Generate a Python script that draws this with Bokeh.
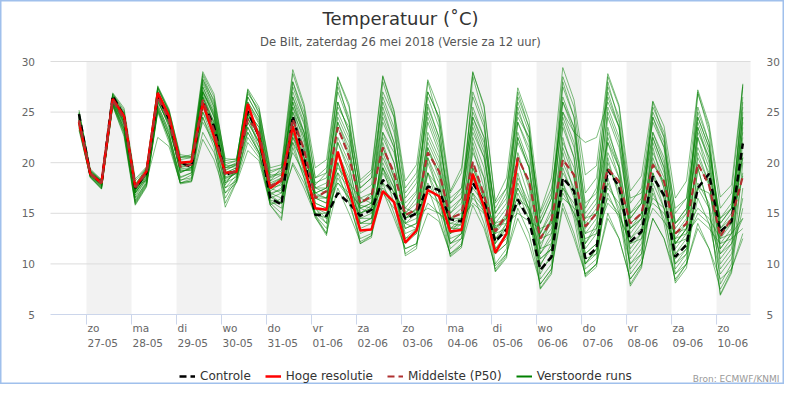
from bokeh.plotting import figure
from bokeh.models import Range1d, Legend, LegendItem, BoxAnnotation
from bokeh.core.properties import value
from bokeh.embed import file_html
from bokeh.resources import INLINE

FONT = value("DejaVu Sans")

# ---------------------------------------------------------------- data
# time of each value: hours since zo 27-05 00:00 (local), one value every 6 h
hours = list(range(-4, 351, 6))

day_names = ["zo", "ma", "di", "wo", "do", "vr", "za", "zo", "ma", "di", "wo", "do", "vr", "za", "zo"]
day_dates = ["27-05", "28-05", "29-05", "30-05", "31-05", "01-06", "02-06", "03-06",
             "04-06", "05-06", "06-06", "07-06", "08-06", "09-06", "10-06"]
y_ticks = [5, 10, 15, 20, 25, 30]

controle = [24.8,
            18.9, 18.0, 26.6, 24.6, 17.5, 19.0, 26.6, 24.3, 20.0, 19.6, 26.0, 23.6,
            18.8, 19.2, 25.1, 22.6, 16.5, 15.85, 24.6, 20.6, 14.85, 14.75, 17.0, 16.0,
            14.75, 15.35, 18.3, 17.0, 14.45, 15.0, 17.65, 17.3, 14.4, 14.2, 18.0, 16.2,
            12.2, 13.4, 16.35, 14.35, 9.4, 10.7, 18.5, 17.2, 10.55, 11.55, 19.3, 17.65,
            12.2, 13.2, 18.65, 16.8, 10.7, 11.9, 17.5, 18.9, 13.2, 14.2, 21.9]

hoge_resolutie = [24.0,
                  18.9, 18.0, 26.3, 24.6, 17.6, 19.15, 26.9, 24.6, 20.0, 20.1, 25.9, 22.6,
                  19.0, 19.1, 25.8, 22.5, 17.5, 18.3, 23.6, 19.65, 15.5, 15.35, 21.1, 17.3,
                  13.3, 13.4, 17.2, 16.1, 12.1, 13.3, 17.3, 16.7, 13.2, 13.35, 18.9, 15.6,
                  11.1, 13.0, 20.4]

middelste = [24.2,
             18.9, 18.0, 26.2, 24.3, 17.6, 19.0, 26.5, 24.2, 19.6, 19.8, 26.2, 23.2,
             18.8, 19.2, 24.3, 23.0, 17.7, 18.2, 24.3, 21.3, 16.5, 17.2, 23.5, 20.6,
             16.0, 16.7, 21.5, 19.0, 14.85, 15.35, 21.0, 19.15, 14.5, 15.0, 20.1, 16.8,
             13.2, 14.85, 20.5, 18.15, 12.5, 14.35, 20.3, 18.8, 13.7, 15.0, 19.4, 18.15,
             14.0, 15.0, 19.8, 18.15, 13.0, 14.0, 19.9, 17.8, 12.7, 14.5, 18.65]

verstoorde_runs = [
    [24.5, 19.2, 18.1, 26.5, 24.8, 17.0, 18.6, 27.3, 25.0, 19.5, 19.8, 28.6, 26.0, 19.5, 20.0, 27.2, 24.8,
     18.6, 19.2, 28.8, 25.5, 18.5, 19.0, 27.5, 24.5, 17.0, 17.8, 26.5, 23.5, 16.0, 17.2, 25.8, 22.5,
     15.5, 16.5, 27.0, 24.0, 14.5, 16.0, 25.5, 22.0, 13.0, 15.0, 27.5, 24.5, 15.5, 17.5, 28.5, 25.5,
     16.0, 17.5, 25.5, 23.0, 15.0, 16.5, 26.8, 23.5, 15.5, 17.0, 27.5],
    [23.6, 18.7, 17.6, 25.8, 23.2, 16.3, 18.2, 25.4, 22.8, 18.5, 19.0, 24.5, 22.0, 18.0, 18.6, 22.5, 20.8,
     17.5, 17.8, 21.0, 19.0, 16.8, 16.5, 18.0, 17.0, 15.8, 15.5, 17.5, 16.2, 15.0, 14.8, 15.5, 15.0,
     14.0, 13.8, 16.5, 15.2, 13.0, 13.5, 17.5, 15.0, 11.5, 12.0, 17.0, 15.0, 12.5, 13.0, 16.0, 14.8,
     12.0, 12.5, 15.5, 14.2, 12.5, 13.0, 14.5, 13.5, 12.0, 12.5, 13.5],
    [25.0, 19.0, 18.2, 26.7, 24.9, 17.8, 19.2, 26.8, 24.6, 20.2, 19.9, 26.5, 24.0, 19.0, 19.5, 25.5, 23.0,
     17.0, 16.5, 25.0, 21.5, 16.0, 15.5, 22.0, 19.5, 15.0, 15.8, 22.5, 20.0, 14.5, 15.5, 22.0, 19.5,
     13.5, 14.0, 21.0, 18.5, 12.0, 13.5, 20.5, 18.0, 11.0, 12.5, 22.0, 19.5, 12.0, 14.0, 23.0, 20.0,
     13.0, 14.5, 21.0, 18.5, 11.0, 12.5, 20.5, 18.0, 11.5, 13.0, 22.5],
    [24.2, 19.3, 18.3, 26.2, 24.0, 17.3, 18.8, 27.6, 25.3, 20.5, 20.8, 29.0, 26.8, 20.2, 20.4, 26.8, 25.3,
     19.5, 19.8, 29.2, 25.8, 19.5, 20.3, 28.5, 25.8, 18.3, 19.3, 28.6, 25.2, 18.2, 19.8, 28.2, 25.3,
     17.2, 19.5, 28.9, 25.7, 16.2, 18.5, 27.4, 24.2, 15.2, 18.5, 29.4, 26.2, 18.8, 19.7, 28.8, 25.7,
     17.2, 18.7, 26.1, 23.6, 16.5, 18.2, 27.2, 23.8, 16.6, 17.8, 27.7],
    [23.2, 18.6, 17.4, 25.6, 22.6, 15.8, 17.6, 25.0, 22.0, 18.0, 18.4, 25.5, 22.5, 16.0, 18.2, 24.5, 21.5,
     15.8, 14.5, 22.0, 18.5, 14.6, 13.0, 20.0, 16.5, 12.0, 12.8, 19.5, 16.0, 11.0, 11.8, 19.0, 15.5,
     10.8, 11.8, 18.5, 15.0, 9.3, 10.8, 19.0, 15.2, 7.6, 9.2, 18.0, 14.5, 8.8, 10.0, 18.5, 15.0,
     8.0, 9.8, 17.5, 14.0, 8.3, 10.0, 19.5, 15.5, 7.0, 9.3, 20.0],
    [24.8, 18.9, 17.9, 26.4, 24.3, 17.2, 19.0, 26.0, 23.8, 19.2, 19.3, 27.2, 24.5, 18.6, 19.0, 24.0, 22.0,
     16.8, 17.5, 26.5, 23.0, 17.0, 17.5, 25.0, 22.5, 16.5, 17.0, 24.5, 21.5, 14.0, 14.5, 20.5, 18.0,
     12.5, 13.0, 19.5, 17.0, 11.0, 12.0, 18.0, 15.5, 9.8, 12.0, 21.5, 18.5, 11.5, 13.0, 24.5, 21.5,
     14.0, 15.0, 22.5, 19.5, 12.0, 13.5, 23.5, 20.5, 13.5, 14.5, 24.5],
    [24.0, 18.8, 17.8, 25.9, 23.5, 17.8, 18.2, 22.5, 21.6, 18.0, 18.2, 23.0, 21.0, 17.5, 18.2, 22.0, 20.5,
     16.0, 16.0, 20.0, 18.0, 15.0, 14.5, 18.5, 16.5, 14.0, 14.0, 19.0, 17.0, 13.5, 14.0, 23.0, 20.5,
     15.0, 16.0, 24.0, 21.0, 13.5, 14.5, 22.5, 19.5, 12.0, 13.5, 20.0, 17.5, 11.0, 12.0, 21.0, 18.5,
     10.5, 12.0, 19.0, 16.5, 10.0, 11.5, 17.5, 15.5, 9.5, 11.0, 16.5],
    [24.6, 19.1, 18.0, 26.8, 25.2, 16.8, 18.4, 27.0, 24.8, 19.8, 20.2, 27.8, 25.5, 19.8, 20.2, 26.5, 24.5,
     18.5, 19.0, 27.5, 24.5, 17.5, 18.0, 26.0, 23.0, 16.0, 16.5, 23.0, 20.0, 14.5, 15.0, 21.5, 19.0,
     13.0, 13.5, 17.0, 15.5, 12.5, 13.0, 16.0, 14.5, 10.5, 11.5, 19.5, 16.5, 10.0, 11.5, 20.0, 17.0,
     11.5, 13.0, 22.0, 19.0, 13.0, 14.5, 24.5, 21.5, 14.0, 15.5, 25.5],
    [23.8, 18.8, 17.7, 26.0, 23.8, 17.9, 19.4, 25.6, 23.2, 19.8, 20.2, 24.0, 22.0, 19.5, 19.6, 23.0, 21.0,
     18.8, 18.8, 22.5, 20.5, 17.5, 17.0, 19.5, 18.0, 16.5, 16.0, 18.0, 16.8, 15.5, 15.0, 17.0, 16.0,
     14.5, 14.5, 16.0, 15.0, 13.8, 14.0, 15.0, 14.2, 13.5, 14.0, 16.5, 15.5, 14.5, 15.0, 17.5, 16.0,
     13.5, 14.5, 16.0, 15.0, 13.0, 13.5, 15.5, 14.5, 12.5, 13.0, 14.5],
    [24.4, 19.0, 18.1, 26.3, 24.4, 17.5, 19.0, 26.9, 24.0, 19.0, 19.5, 27.5, 24.8, 18.2, 19.0, 25.0, 23.5,
     17.5, 17.0, 25.5, 22.0, 16.5, 16.0, 24.0, 21.5, 15.5, 16.0, 25.0, 22.0, 15.0, 16.0, 24.5, 21.5,
     14.5, 15.5, 25.5, 22.5, 13.5, 15.0, 24.0, 21.0, 12.5, 14.5, 25.0, 22.0, 13.0, 14.5, 25.5, 22.5,
     13.5, 15.0, 24.5, 21.5, 12.5, 14.0, 23.0, 20.5, 12.0, 13.5, 23.5],
    [23.4, 18.6, 17.5, 25.7, 23.0, 16.0, 17.8, 25.2, 22.5, 18.3, 18.5, 26.0, 23.0, 17.0, 18.5, 24.8, 22.5,
     16.2, 15.5, 24.0, 20.0, 15.0, 14.0, 21.0, 18.0, 13.0, 13.5, 21.5, 18.5, 12.0, 13.0, 20.0, 17.0,
     11.5, 12.5, 22.0, 18.5, 10.0, 11.5, 21.0, 17.5, 8.5, 10.0, 22.5, 18.5, 9.5, 10.5, 23.5, 19.5,
     9.0, 10.5, 21.5, 17.5, 9.0, 10.5, 22.5, 18.5, 8.0, 10.0, 24.0],
    [24.3, 18.9, 18.0, 26.2, 24.3, 17.6, 19.0, 26.5, 24.2, 19.6, 19.8, 26.2, 23.2, 18.8, 19.2, 24.3, 23.0,
     17.7, 18.2, 24.3, 21.3, 16.5, 17.2, 23.5, 20.6, 16.0, 16.7, 21.5, 19.0, 14.8, 15.3, 21.0, 19.2,
     14.5, 15.0, 20.0, 16.8, 13.2, 14.8, 20.5, 18.2, 12.5, 14.3, 20.3, 18.8, 13.7, 15.0, 19.4, 18.2,
     14.0, 15.0, 19.8, 18.2, 13.0, 14.0, 19.9, 17.8, 12.7, 14.5, 18.7],
    [24.9, 19.2, 18.2, 26.6, 24.7, 17.4, 19.3, 27.0, 24.5, 20.0, 20.0, 27.0, 25.0, 19.2, 19.8, 26.0, 24.0,
     17.2, 18.0, 27.0, 24.0, 16.0, 15.5, 24.5, 22.0, 14.5, 15.0, 23.0, 21.0, 15.5, 17.0, 26.5, 23.5,
     16.0, 17.5, 26.5, 23.5, 15.0, 17.0, 26.0, 23.0, 14.0, 16.5, 28.5, 25.5, 17.0, 18.5, 27.5, 24.5,
     15.0, 16.5, 25.0, 22.5, 14.0, 15.5, 25.5, 22.0, 13.0, 14.5, 26.5],
    [23.9, 18.7, 17.6, 25.9, 23.4, 16.5, 18.0, 25.8, 23.0, 18.2, 18.8, 25.0, 22.2, 16.5, 18.4, 23.0, 21.0,
     16.0, 15.0, 21.5, 18.5, 14.8, 13.5, 19.0, 16.0, 12.5, 13.0, 18.0, 15.0, 11.5, 12.0, 17.5, 14.5,
     11.0, 12.0, 17.0, 14.0, 9.5, 11.0, 15.5, 13.0, 8.0, 9.5, 16.0, 13.0, 9.0, 10.0, 15.0, 12.5,
     8.5, 10.0, 14.5, 12.5, 8.5, 10.0, 14.0, 11.5, 7.5, 9.5, 13.0],
    [25.2, 19.4, 18.3, 26.9, 25.4, 18.4, 19.6, 27.4, 25.2, 20.8, 20.6, 28.2, 26.2, 20.4, 20.3, 27.0, 25.0,
     19.2, 19.5, 25.5, 23.0, 18.0, 18.5, 25.5, 23.5, 17.5, 18.5, 27.0, 24.5, 17.0, 18.5, 27.0, 24.5,
     16.5, 17.5, 24.5, 22.0, 15.5, 17.5, 25.0, 22.5, 14.5, 17.0, 26.0, 23.5, 16.0, 17.0, 22.0, 19.5,
     13.5, 14.5, 20.0, 18.0, 14.0, 15.0, 21.5, 19.0, 14.5, 15.5, 20.5],
    [24.1, 18.8, 17.8, 26.1, 23.9, 17.0, 18.7, 26.2, 23.5, 19.3, 19.2, 26.8, 24.0, 18.4, 19.0, 24.8, 22.5,
     17.0, 17.3, 23.5, 20.5, 15.5, 15.0, 20.0, 17.5, 14.5, 14.5, 20.0, 17.5, 13.0, 13.5, 19.0, 16.5,
     12.0, 13.0, 19.5, 16.5, 11.5, 12.5, 18.5, 16.0, 10.5, 11.5, 18.0, 15.5, 10.5, 11.0, 17.0, 14.5,
     10.0, 11.0, 17.0, 14.5, 10.0, 11.0, 16.5, 14.0, 9.0, 10.5, 15.5],
    [24.7, 19.0, 18.1, 26.5, 24.6, 17.7, 19.1, 27.0, 24.9, 20.3, 20.5, 28.0, 25.8, 19.7, 19.8, 26.0, 24.2,
     18.2, 18.8, 26.5, 23.8, 17.8, 19.0, 27.0, 24.0, 17.5, 18.5, 26.0, 23.0, 16.5, 18.0, 25.0, 22.0,
     16.0, 17.0, 25.0, 22.5, 15.0, 16.5, 24.5, 22.5, 15.0, 17.5, 25.0, 23.0, 22.0, 22.5, 26.0, 23.5,
     16.5, 17.0, 24.0, 21.5, 15.5, 16.5, 24.0, 21.0, 14.5, 16.0, 23.0],
    [23.5, 18.5, 17.4, 25.6, 22.8, 15.9, 17.7, 25.3, 22.3, 18.0, 18.2, 24.5, 21.5, 15.6, 18.1, 23.5, 21.0,
     15.8, 14.3, 23.0, 19.0, 14.6, 12.8, 21.0, 18.0, 12.0, 12.6, 22.0, 18.5, 10.8, 11.5, 20.5, 17.0,
     10.7, 11.6, 21.5, 17.5, 9.2, 10.6, 20.0, 16.5, 7.5, 9.0, 21.0, 17.0, 8.7, 9.7, 20.5, 16.5,
     7.8, 9.6, 19.0, 15.5, 8.1, 9.6, 19.5, 15.5, 6.9, 9.1, 17.5],
    [24.5, 19.1, 18.1, 26.4, 24.5, 17.1, 18.9, 27.4, 25.0, 19.4, 19.5, 28.3, 25.5, 18.0, 19.2, 25.0, 23.5,
     16.5, 17.0, 28.0, 24.5, 16.5, 16.0, 28.0, 24.0, 15.0, 15.5, 28.0, 24.5, 14.0, 15.0, 28.0, 24.0,
     13.0, 14.5, 28.5, 24.5, 12.0, 14.0, 27.0, 23.5, 11.5, 14.5, 28.0, 24.5, 13.5, 15.0, 28.0, 24.0,
     12.5, 14.0, 26.0, 22.5, 11.5, 13.0, 27.0, 23.0, 12.5, 14.0, 27.8],
    [24.8, 18.9, 18.0, 26.6, 24.5, 17.4, 18.9, 26.5, 24.3, 20.0, 19.5, 26.0, 23.5, 18.9, 19.2, 25.0, 22.5,
     16.6, 16.0, 24.5, 20.5, 15.0, 15.0, 18.0, 16.5, 15.0, 15.5, 19.5, 17.5, 14.5, 15.0, 19.0, 17.5,
     14.0, 14.5, 19.0, 16.5, 12.5, 13.5, 17.5, 15.5, 10.0, 11.5, 19.0, 17.0, 11.0, 12.0, 19.5, 17.5,
     12.5, 13.5, 18.5, 16.5, 11.0, 12.0, 17.5, 17.0, 13.0, 14.0, 20.5],
    [24.0, 18.8, 17.9, 26.0, 23.7, 17.0, 18.5, 26.2, 23.6, 19.0, 19.6, 27.0, 24.5, 17.8, 19.5, 25.8, 23.8,
     17.5, 18.5, 25.0, 22.5, 16.5, 16.5, 22.5, 20.0, 14.0, 14.5, 20.5, 18.0, 13.5, 14.0, 22.5, 20.0,
     13.5, 14.5, 23.0, 20.5, 13.0, 14.5, 23.0, 20.0, 11.0, 13.0, 23.5, 20.5, 12.0, 13.5, 22.5, 19.5,
     11.0, 12.5, 22.5, 19.5, 12.0, 13.5, 22.5, 19.5, 11.0, 12.5, 21.0],
    [24.2, 18.9, 17.9, 26.1, 24.0, 17.8, 19.5, 26.0, 23.9, 20.5, 20.5, 25.0, 23.0, 19.3, 19.8, 23.5, 21.5,
     18.2, 19.5, 22.0, 20.0, 17.0, 16.5, 19.0, 17.5, 15.5, 15.0, 17.0, 15.5, 14.0, 13.5, 16.0, 15.0,
     13.5, 13.5, 17.5, 16.0, 14.0, 14.5, 16.5, 15.5, 12.5, 13.0, 17.5, 16.0, 13.0, 13.5, 16.5, 15.0,
     12.0, 13.0, 16.5, 15.5, 12.0, 12.5, 15.0, 14.0, 11.0, 12.0, 14.5],
    [24.6, 19.0, 18.0, 26.5, 24.8, 17.3, 18.8, 27.1, 24.6, 19.9, 20.1, 27.5, 25.2, 19.5, 19.9, 26.5, 24.5,
     18.0, 18.5, 26.0, 23.0, 17.5, 17.5, 24.0, 21.0, 15.5, 16.0, 24.0, 21.5, 15.0, 16.5, 25.5, 22.5,
     15.0, 16.5, 23.5, 20.5, 14.0, 15.5, 22.0, 19.5, 13.0, 15.5, 24.5, 21.5, 14.0, 15.5, 25.0, 22.0,
     14.5, 16.0, 23.0, 20.5, 13.5, 15.0, 24.5, 21.5, 13.5, 15.0, 24.5],
    [23.8, 18.7, 17.7, 25.8, 23.4, 16.2, 18.0, 25.5, 22.8, 18.6, 19.0, 26.5, 23.5, 17.5, 18.8, 24.0, 22.0,
     16.3, 16.0, 22.5, 19.5, 15.5, 14.0, 22.0, 19.0, 13.5, 14.0, 21.0, 18.0, 12.5, 13.5, 21.5, 18.5,
     12.0, 13.0, 22.5, 19.5, 11.5, 13.0, 22.5, 19.5, 9.0, 11.0, 24.0, 20.5, 10.0, 11.5, 22.0, 18.5,
     9.5, 11.0, 20.5, 17.5, 9.5, 11.0, 21.0, 18.0, 10.0, 11.5, 22.0],
    [24.3, 18.9, 17.8, 26.3, 24.1, 16.6, 18.4, 26.4, 23.9, 19.1, 19.4, 26.5, 23.8, 18.5, 18.9, 24.5, 22.0,
     16.8, 16.0, 23.0, 20.0, 15.5, 14.5, 21.0, 18.5, 14.0, 14.5, 19.5, 17.0, 12.5, 13.0, 18.0, 16.0,
     12.0, 12.5, 18.5, 16.0, 11.0, 12.0, 17.0, 14.5, 9.5, 10.5, 17.5, 15.0, 10.0, 11.0, 18.0, 15.5,
     10.0, 11.5, 18.0, 15.5, 10.5, 11.5, 18.0, 16.0, 10.5, 12.0, 19.0],
    [24.9, 19.2, 18.2, 26.8, 25.0, 18.2, 19.5, 27.5, 25.1, 20.6, 20.6, 28.8, 26.5, 20.0, 20.2, 27.3, 25.5,
     19.0, 19.5, 28.0, 25.0, 18.5, 19.5, 28.4, 25.5, 18.0, 19.0, 28.5, 25.0, 17.5, 19.0, 27.0, 24.5,
     17.0, 19.0, 29.0, 25.5, 16.0, 17.5, 26.5, 23.5, 14.0, 16.5, 26.5, 23.5, 15.0, 16.5, 26.5, 23.5,
     14.5, 16.0, 24.5, 22.0, 14.0, 15.5, 25.0, 22.0, 14.0, 15.5, 26.0],
    [23.7, 18.6, 17.5, 25.7, 23.1, 16.1, 17.9, 25.1, 22.4, 17.9, 18.1, 22.3, 20.3, 17.0, 18.0, 21.2, 20.2,
     15.8, 16.5, 19.8, 17.5, 14.8, 13.0, 17.5, 15.0, 12.2, 12.8, 17.2, 14.5, 11.5, 12.0, 15.0, 14.2,
     11.0, 11.8, 15.8, 13.5, 9.8, 11.0, 14.5, 12.0, 8.0, 9.5, 15.5, 12.5, 9.0, 10.0, 14.5, 12.5,
     8.5, 10.0, 14.5, 12.5, 9.0, 10.0, 13.5, 11.5, 8.5, 9.5, 12.5],
    [24.4, 19.0, 18.0, 26.4, 24.2, 17.6, 19.1, 26.8, 24.5, 19.7, 20.0, 27.0, 24.7, 19.0, 19.5, 24.8, 23.0,
     17.8, 18.5, 26.0, 22.5, 17.0, 17.5, 26.0, 23.0, 16.0, 17.0, 25.5, 22.0, 14.5, 15.5, 24.0, 21.0,
     13.0, 14.0, 24.5, 21.5, 12.5, 14.0, 24.0, 21.5, 12.5, 14.0, 26.0, 23.0, 14.5, 16.0, 27.0, 23.5,
     15.0, 16.0, 23.0, 20.0, 12.0, 13.5, 23.5, 20.0, 11.5, 13.0, 25.0],
]

# ---------------------------------------------------------------- layout (pixels)
W, H = 784, 384
PLOT_L, PLOT_R, PLOT_T, PLOT_B = 50, 750, 61, 314     # plot area inside the canvas
X0, X1 = -19.2, 354.1                                 # hours shown in the plot area
Y0, Y1 = y_ticks[0], y_ticks[-1]
PX_H = (PLOT_R - PLOT_L) / (X1 - X0)
PX_D = (PLOT_B - PLOT_T) / (Y1 - Y0)

# the frame covers the whole canvas; the plot area is a window inside it
p = figure(width=W, height=H,
           x_range=Range1d(X0 - PLOT_L / PX_H, X1 + (W - PLOT_R) / PX_H),
           y_range=Range1d(Y0 - (H - PLOT_B) / PX_D, Y1 + PLOT_T / PX_D),
           output_backend="svg", toolbar_location=None,
           x_axis_location=None, y_axis_location=None, min_border=0,
           background_fill_color="white", border_fill_color="white")
p.outline_line_color = "#a0c0ec"
p.outline_line_width = 2
p.xgrid.visible = False
p.ygrid.visible = False

day_starts = [24 * d for d in range(len(day_dates))]
for d in day_starts[::2]:
    p.add_layout(BoxAnnotation(left=d, right=min(d + 24, X1), bottom=Y0, top=Y1,
                               fill_color="#f2f2f2", fill_alpha=1, line_color=None,
                               level="underlay"))

# horizontal grid lines, x axis line and day ticks
p.segment(x0=X0, x1=X1, y0=y_ticks[1:], y1=y_ticks[1:], line_color="#dcdcdc", line_width=1)
p.segment(x0=X0, x1=X1, y0=Y0, y1=Y0, line_color="#ccd6eb", line_width=1)
p.segment(x0=day_starts, x1=day_starts, y0=Y0, y1=Y0 - 10 / PX_D,
          line_color="#ccd6eb", line_width=1)

# y tick labels, both sides
ylab = [str(t) for t in y_ticks]
p.text(x=X0, y=y_ticks, text=ylab, x_offset=-15.5, text_align="right",
       text_baseline="middle", text_font=FONT, text_font_size="10.5px", text_color="#666666")
p.text(x=X1, y=y_ticks, text=ylab, x_offset=16, text_align="left",
       text_baseline="middle", text_font=FONT, text_font_size="10.5px", text_color="#666666")

# x tick labels: day name and date, left aligned at the tick
p.text(x=day_starts, y=Y0, text=day_names, x_offset=1, y_offset=13.5, text_align="left",
       text_baseline="alphabetic", text_font=FONT, text_font_size="10.5px",
       text_color="#666666")
p.text(x=day_starts, y=Y0, text=day_dates, x_offset=1, y_offset=28, text_align="left",
       text_baseline="alphabetic", text_font=FONT, text_font_size="10.5px",
       text_color="#666666")

# series
r_runs = [p.line(hours, run, line_color="#008000", line_alpha=0.5, line_width=1)
          for run in verstoorde_runs]
r_ctrl = p.line(hours, controle, line_color="black", line_width=2.5, line_dash="7 4")
r_hres = p.line(hours[:len(hoge_resolutie)], hoge_resolutie, line_color="#ff0000", line_width=2.5)
r_med = p.line(hours, middelste, line_color="#b03030", line_width=2.2, line_dash="7 4")
# legend swatch for the ensemble: same data, drawn only in the legend
r_runs_key = p.line(hours, verstoorde_runs[0], line_color="#008000", line_width=2, visible=False)

# titles and credits
XC = (X0 + X1) / 2
p.text(x=XC, y=p.y_range.end, text=["Temperatuur (\u02daC)"], y_offset=17.5, text_align="center",
       text_baseline="alphabetic", text_font=FONT, text_font_size="18px", text_color="#333333")
p.text(x=XC, y=p.y_range.end, text=["De Bilt, zaterdag 26 mei 2018 (Versie za 12 uur)"],
       y_offset=41, text_align="center", text_baseline="alphabetic", text_font=FONT,
       text_font_size="11.6px", text_color="#555555")
p.text(x=p.x_range.end, y=p.y_range.start, text=["Bron: ECMWF/KNMI"], x_offset=-5, y_offset=-6,
       text_align="right", text_baseline="alphabetic", text_font=FONT, text_font_size="9px",
       text_color="#999999")

legend = Legend(items=[LegendItem(label="Controle", renderers=[r_ctrl]),
                       LegendItem(label="Hoge resolutie", renderers=[r_hres]),
                       LegendItem(label="Middelste (P50)", renderers=[r_med]),
                       LegendItem(label="Verstoorde runs", renderers=[r_runs_key])],
                orientation="horizontal", location=(179, 1),
                label_text_font="DejaVu Sans", label_text_font_size="12px",
                label_text_color="#333333", glyph_width=16, glyph_height=12, label_height=14,
                label_standoff=5, spacing=14, padding=0, margin=0,
                inactive_fill_alpha=0, border_line_color=None, background_fill_alpha=0)
p.add_layout(legend)

open("out.html", "w").write(file_html(p, INLINE))
